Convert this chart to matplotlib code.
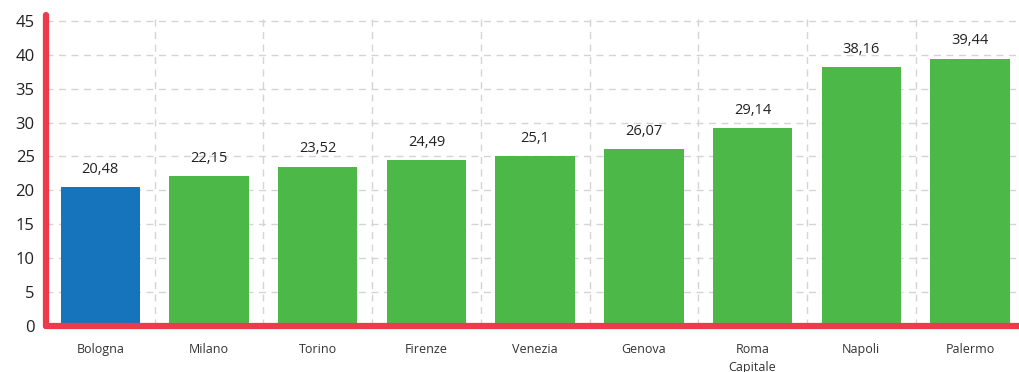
import numpy as np
import matplotlib.pyplot as plt

plt.rcParams['font.family'] = ['Open Sans', 'DejaVu Sans']

cities = ['Bologna', 'Milano', 'Torino', 'Firenze', 'Venezia', 'Genova',
          'Roma\nCapitale', 'Napoli', 'Palermo']
values = [20.48, 22.15, 23.52, 24.49, 25.1, 26.07, 29.14, 38.16, 39.44]
colors = ['#1574bc'] + ['#4cb848'] * 8

fig = plt.figure(figsize=(10.19, 3.72), dpi=100)
ax = fig.add_axes([0.045, 0.124, 0.955, 0.836])

x = np.arange(len(cities))
ax.bar(x, values, width=0.73, color=colors, zorder=3)
for i, v in enumerate(values):
    ax.text(i, v + 1.5, ('%g' % v).replace('.', ','), ha='center', va='bottom',
            fontsize=10.5, color='#222222')

ax.set_xlim(-0.5, 8.45)
ax.set_ylim(0, 45.9)
ax.set_yticks(range(0, 50, 5))
ax.set_xticks(x)
ax.set_xticklabels(cities, fontsize=9, color='#333333', linespacing=1.5)
ax.tick_params(axis='y', labelsize=12, length=0, pad=8, labelcolor='#222222')
ax.tick_params(axis='x', length=0, pad=12)

for yv in range(5, 50, 5):
    ax.axhline(yv, color='#d4d4d4', lw=1, ls=(0, (5, 4)), zorder=1)
for xv in np.arange(0.5, 8, 1):
    ax.axvline(xv, color='#d4d4d4', lw=1, ls=(0, (5, 4)), zorder=1)

for s in ['top', 'right']:
    ax.spines[s].set_visible(False)
for s in ['left', 'bottom']:
    ax.spines[s].set_color('#ee3a4b')
    ax.spines[s].set_linewidth(4.5)
    ax.spines[s].set_capstyle('round')
    ax.spines[s].set_zorder(4)

fig.savefig('out.png', dpi=100)
